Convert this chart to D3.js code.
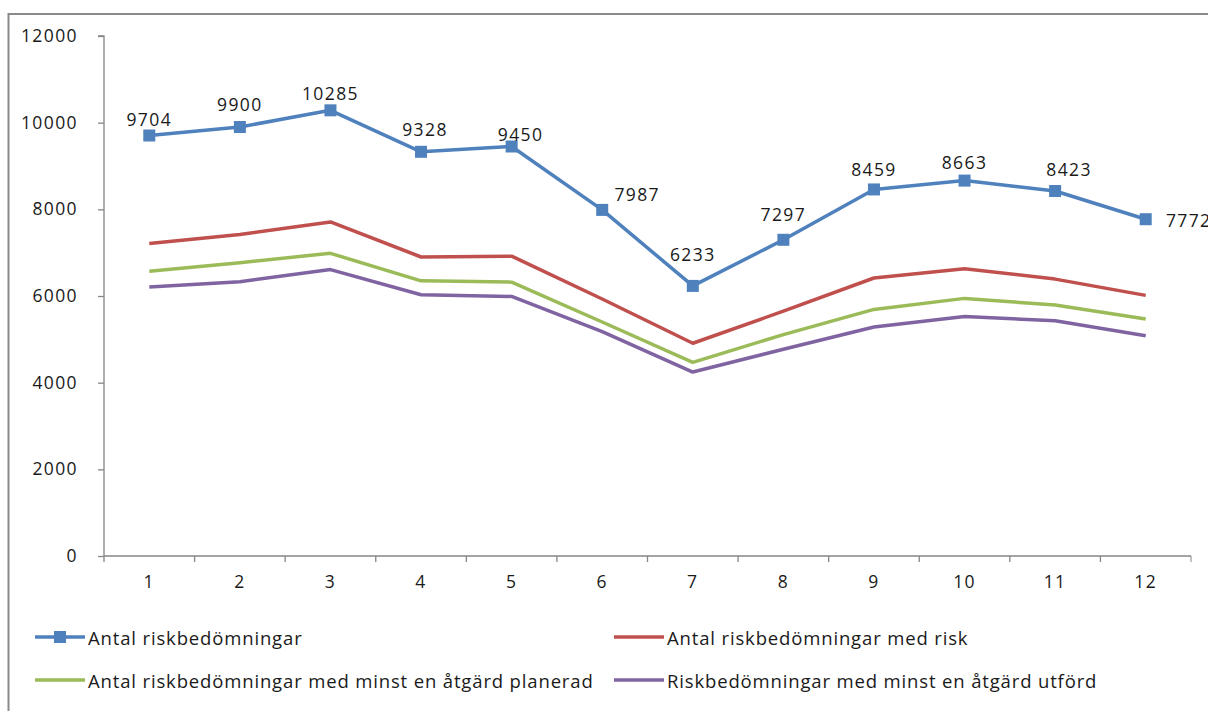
<!DOCTYPE html>
<html>
<head>
<meta charset="utf-8">
<script src="https://cdn.jsdelivr.net/npm/d3@7"></script>
<style>
  body { margin: 0; background: #fff; }
  svg text { font-family: "Open Sans", Lato, sans-serif; fill: #1a1a1a; }
</style>
</head>
<body>
<svg id="chart" width="1208" height="711"></svg>
<script>
// data
let months = ['1', '2', '3', '4', '5', '6', '7', '8', '9', '10', '11', '12'];
let antal = [9704, 9900, 10285, 9328, 9450, 7987, 6233, 7297, 8459, 8663, 8423, 7772];
let medRisk = [7210, 7420, 7710, 6900, 6920, 5930, 4910, 5650, 6415, 6630, 6390, 6015];
let planerad = [6570, 6770, 6985, 6350, 6320, 5400, 4470, 5110, 5690, 5945, 5790, 5470];
let utford = [6210, 6330, 6610, 6030, 5990, 5180, 4245, 4770, 5285, 5525, 5430, 5085];
let yTicks = [0, 2000, 4000, 6000, 8000, 10000, 12000];

let seriesNames = [
  'Antal riskbedömningar',
  'Antal riskbedömningar med risk',
  'Antal riskbedömningar med minst en åtgärd planerad',
  'Riskbedömningar med minst en åtgärd utförd'
];

// label nudges (dx, dy from the marker), as the labels sit in the picture
let labelNudge = [[0, -16], [0, -23], [0, -17], [4, -23], [9, -13], [35, -16],
                  [0, -32], [0, -26], [0, -20], [0, -19], [14, -22], [43, 1]];

let colors = ['#4f81bd', '#c0504d', '#9bbb59', '#8064a2'];
let series = [antal, medRisk, planerad, utford];

let svg = d3.select('#chart');

// outer frame
svg.append('rect')
  .attr('x', 8.5).attr('y', 14)
  .attr('width', 1220).attr('height', 720)
  .style('fill', 'none')
  .style('stroke', '#8a8a8a')
  .style('stroke-width', 2);

let plotLeft = 104, plotRight = 1191, plotTop = 36, plotBottom = 556;

let x = d3.scaleBand().domain(months).range([plotLeft, plotRight]);
let y = d3.scaleLinear().domain([0, 12000]).range([plotBottom, plotTop]);

let axisColor = '#868686';

let yAxis = svg.append('g')
  .attr('transform', `translate(${plotLeft},0)`)
  .call(d3.axisLeft(y).tickValues(yTicks).tickSize(6).tickPadding(20).tickFormat(d3.format('d')));
let xAxis = svg.append('g')
  .attr('transform', `translate(0,${plotBottom})`)
  .call(d3.axisBottom(x).tickSize(6).tickPadding(14));

// band axis puts ticks in the middle; move them to the band edges like the original
xAxis.selectAll('.tick line').attr('transform', `translate(${-x.bandwidth() / 2},0)`);
xAxis.append('line')
  .attr('x1', plotRight).attr('x2', plotRight)
  .attr('y1', 0).attr('y2', 6)
  .style('stroke', axisColor);

[xAxis, yAxis].forEach(ax => {
  ax.select('.domain').style('stroke', axisColor).attr('stroke-width', 1.3);
  ax.selectAll('.tick line').style('stroke', axisColor).attr('stroke-width', 1.3);
  ax.selectAll('text').style('font-size', '17.5px').style('fill', '#1a1a1a')
    .style('letter-spacing', '1.4px')
    .style('font-family', '"Open Sans", Lato, sans-serif');
});
yAxis.select('.domain').attr('d', `M-6,${plotTop}H0V${plotBottom}`);
xAxis.select('.domain').attr('d', `M${plotLeft},0H${plotRight}`);

let cx = (d, i) => x(months[i]) + x.bandwidth() / 2;
let line = d3.line().x((d, i) => cx(d, i)).y(d => y(d));

let lines = svg.append('g');
lines.selectAll('.lines')
  .data(series.slice().reverse())
  .join('path')
  .attr('class', 'lines')
  .attr('d', d => line(d))
  .style('fill', 'none')
  .style('stroke', (d, i) => colors[series.length - 1 - i])
  .style('stroke-width', 3.5)
  .style('stroke-linejoin', 'round');

lines.selectAll('.marker')
  .data(antal)
  .join('rect')
  .attr('class', 'marker')
  .attr('x', (d, i) => cx(d, i) - 6)
  .attr('y', d => y(d) - 6)
  .attr('width', 12).attr('height', 12)
  .style('fill', colors[0]);

lines.selectAll('.dlabel')
  .data(antal)
  .join('text')
  .attr('class', 'dlabel')
  .attr('x', (d, i) => cx(d, i) + labelNudge[i][0])
  .attr('y', (d, i) => y(d) + labelNudge[i][1])
  .attr('text-anchor', 'middle')
  .attr('dominant-baseline', 'central')
  .style('font-size', '17.5px')
  .style('letter-spacing', '1.4px')
  .text(d => d);

// legend, two columns by two rows
let legendPos = [[35, 637], [614, 637], [35, 680], [614, 680]];
let legend = svg.append('g');
let items = legend.selectAll('.item')
  .data(seriesNames)
  .join('g')
  .attr('class', 'item')
  .attr('transform', (d, i) => `translate(${legendPos[i][0]},${legendPos[i][1]})`);
items.append('line')
  .attr('x1', 0).attr('x2', 50)
  .style('stroke', (d, i) => colors[i])
  .style('stroke-width', 3.5);
items.filter((d, i) => i === 0).append('rect')
  .attr('x', 19).attr('y', -6).attr('width', 12).attr('height', 12)
  .style('fill', colors[0]);
items.append('text')
  .attr('x', 53)
  .attr('dominant-baseline', 'central')
  .style('font-size', '18.5px')
  .style('letter-spacing', '0.85px')
  .text(d => d);
</script>
</body>
</html>
